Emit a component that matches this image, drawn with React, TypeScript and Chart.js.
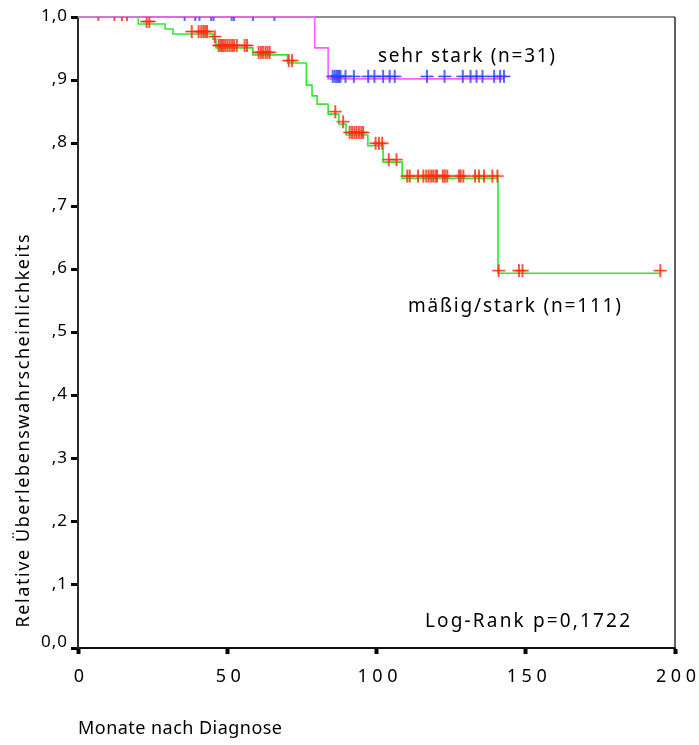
import React, { useEffect, useRef } from "react";
import { Chart, registerables } from "chart.js";

Chart.register(...registerables);

const W = 699;
const H = 745;

// "mäßig/stark" group: event times (months) and survival after each step
const moderateTimes = [0, 20.2, 29.2, 31.8, 45.2, 46.2, 58.6, 70.2, 76.5, 78.4, 80.1, 83.8, 87.4, 89.8, 97.1, 102.2, 108.6, 140.7, 195.1];
const moderateSurv = [1.0, 0.989, 0.981, 0.973, 0.965, 0.951, 0.94, 0.927, 0.892, 0.875, 0.862, 0.846, 0.83, 0.813, 0.796, 0.77, 0.744, 0.594, 0.594];
// censored observations (months)
const moderateCensored = [
  6.8, 12.2, 14.7, 16.4,
  23.0, 23.9,
  38.1, 40.4, 41.3, 42.0, 42.6, 43.2,
  45.8,
  47.1, 47.7, 48.2, 48.8, 49.4, 50.1, 50.8, 51.6, 52.3, 53.2, 55.8, 56.6,
  60.5, 61.3, 62.0, 62.8, 63.5, 64.2,
  70.6, 71.7,
  86.2, 88.8,
  91.0, 91.8, 92.6, 93.3, 94.1, 94.9, 95.5,
  99.7, 100.8, 101.9,
  104.1, 106.7,
  110.3, 111.1, 113.9, 115.7, 116.7, 117.5, 118.3, 119.0, 119.8, 120.3, 122.2, 122.9, 123.7,
  127.6, 128.2, 129.1, 133.0, 134.3, 136.0, 138.8, 140.5,
  140.9, 147.7, 148.9, 195.1,
];

// "sehr stark" group
const strongTimes = [0, 79.3, 83.8, 142.7];
const strongSurv = [1.0, 0.951, 0.902, 0.902];
const strongCensored = [
  35.7, 39.3, 40.7, 44.6, 45.4, 51.5, 52.3, 58.6, 65.8,
  85.3, 86.0, 86.6, 87.0, 87.5, 87.9, 89.6, 92.4, 97.2, 99.3, 102.2, 104.4, 106.1,
  116.9, 122.8, 128.9, 131.5, 133.5, 135.5, 139.4, 141.4, 142.7,
];

const yTickLabels = ["0,0", ",1", ",2", ",3", ",4", ",5", ",6", ",7", ",8", ",9", "1,0"];
const xTickLabels = ["0", "50", "100", "150", "200"];

const yTitle = "Relative Überlebenswahrscheinlichkeits";
const xTitle = "Monate nach Diagnose";
const strongLabel = "sehr stark (n=31)";
const moderateLabel = "mäßig/stark (n=111)";
const testLabel = "Log-Rank p=0,1722";

const FAMILY = '"Noto Sans", "DejaVu Sans", sans-serif';

function survivalAt(times: number[], surv: number[], t: number): number {
  let s = surv[0];
  for (let i = 0; i < times.length; i++) {
    if (times[i] <= t) s = surv[i];
  }
  return s;
}

function stepPoints(times: number[], surv: number[]) {
  return times.map((t, i) => ({ x: t, y: surv[i] }));
}

function censorPoints(times: number[], surv: number[], censored: number[]) {
  return censored.map((t) => ({ x: t, y: survivalAt(times, surv, t) }));
}

// small "+" marker, drawn a little above the point it marks
function crossMarker(color: string): HTMLCanvasElement {
  const c = document.createElement("canvas");
  c.width = 14;
  c.height = 20;
  const g = c.getContext("2d")!;
  g.strokeStyle = color;
  g.lineWidth = 1.6;
  g.beginPath();
  g.moveTo(7, 1);
  g.lineTo(7, 14);
  g.moveTo(0.5, 7.5);
  g.lineTo(13.5, 7.5);
  g.stroke();
  return c;
}

// draws text character by character with extra tracking;
// if width is given, the tracking is chosen so the text spans that width
function spacedText(
  ctx: CanvasRenderingContext2D,
  text: string,
  x: number,
  y: number,
  align: "left" | "center" | "right",
  spacing: number,
  width?: number
) {
  const chars = Array.from(text);
  const widths = chars.map((ch) => ctx.measureText(ch).width);
  const natural = widths.reduce((a, b) => a + b, 0);
  const gap = width !== undefined && chars.length > 1 ? (width - natural) / (chars.length - 1) : spacing;
  const total = natural + gap * (chars.length - 1);
  let cx = align === "center" ? x - total / 2 : align === "right" ? x - total : x;
  ctx.textAlign = "left";
  chars.forEach((ch, i) => {
    ctx.fillText(ch, cx, y);
    cx += widths[i] + gap;
  });
}

const framePlugin = {
  id: "frame",
  beforeDatasetsDraw(chart: any) {
    const { ctx, chartArea } = chart;
    ctx.save();
    ctx.strokeStyle = "#8c8c8c";
    ctx.lineWidth = 2;
    ctx.beginPath();
    ctx.moveTo(chartArea.left, chartArea.top);
    ctx.lineTo(chartArea.right, chartArea.top);
    ctx.stroke();
    ctx.strokeStyle = "#3a3a3a";
    ctx.lineWidth = 1.6;
    ctx.beginPath();
    ctx.moveTo(chartArea.right, chartArea.top);
    ctx.lineTo(chartArea.right, chartArea.bottom);
    ctx.stroke();
    ctx.restore();
  },
};

const textPlugin = {
  id: "texts",
  afterDraw(chart: any) {
    const { ctx, chartArea } = chart;
    const xs = chart.scales.x;
    const ys = chart.scales.y;
    ctx.save();
    ctx.fillStyle = "#000";

    // y tick labels
    ctx.font = `17px ${FAMILY}`;
    ctx.textBaseline = "middle";
    ys.ticks.forEach((tick: any, i: number) => {
      const py = ys.getPixelForValue(tick.value);
      const label = yTickLabels[i] ?? "";
      spacedText(ctx, label, 67, i === 0 ? py - 6 : py - 1, "right", 1);
    });

    ctx.textBaseline = "alphabetic";
    // x tick labels
    ctx.font = `18px ${FAMILY}`;
    xs.ticks.forEach((tick: any, i: number) => {
      const px = xs.getPixelForValue(tick.value);
      spacedText(ctx, xTickLabels[i] ?? "", px + 1, chartArea.bottom + 34, "center", 4.5);
    });

    // curve labels and test result
    ctx.font = `19px ${FAMILY}`;
    spacedText(ctx, strongLabel, 378, 61.5, "left", 0, 177);
    spacedText(ctx, moderateLabel, 408, 311.5, "left", 0, 213);
    spacedText(ctx, testLabel, 425, 626.5, "left", 0, 205);

    // axis titles
    ctx.font = `18px ${FAMILY}`;
    spacedText(ctx, xTitle, 78, 733.5, "left", 0, 204);
    ctx.translate(29, 431);
    ctx.rotate(-Math.PI / 2);
    spacedText(ctx, yTitle, 0, 0, "center", 0, 393);
    ctx.restore();
  },
};

export default function App() {
  const ref = useRef<HTMLCanvasElement>(null);

  useEffect(() => {
    const canvas = ref.current;
    if (!canvas) return;
    const blueCross = crossMarker("#2a45ff");
    const redCross = crossMarker("#ff2a0a");

    const chart = new Chart(canvas, {
      type: "line",
      data: {
        datasets: [
          {
            label: "sehr stark zensiert",
            data: censorPoints(strongTimes, strongSurv, strongCensored),
            showLine: false,
            pointStyle: blueCross as any,
            pointRadius: 7,
            clip: 0,
          } as any,
          {
            label: "mäßig/stark zensiert",
            data: censorPoints(moderateTimes, moderateSurv, moderateCensored),
            showLine: false,
            pointStyle: redCross as any,
            pointRadius: 7,
            clip: 0,
          },
          {
            label: "sehr stark",
            data: stepPoints(strongTimes, strongSurv),
            stepped: true,
            borderColor: "#ff5cff",
            borderWidth: 1.6,
            pointRadius: 0,
            fill: false,
            clip: 2,
          },
          {
            label: "mäßig/stark",
            data: stepPoints(moderateTimes, moderateSurv),
            stepped: true,
            borderColor: "#2fe82f",
            borderWidth: 1.6,
            pointRadius: 0,
            fill: false,
            clip: 2,
          },
        ],
      },
      options: {
        responsive: false,
        devicePixelRatio: 1,
        animation: false,
        events: [],
        layout: { padding: { top: 17, right: 24, left: 0, bottom: 0 } },
        plugins: {
          legend: { display: false },
          tooltip: { enabled: false },
        },
        scales: {
          x: {
            type: "linear",
            min: 0,
            max: 200,
            ticks: { stepSize: 50, display: false },
            grid: {
              drawOnChartArea: false,
              drawTicks: true,
              tickLength: 6,
              tickWidth: 4,
              tickColor: "#000",
            },
            border: { color: "#111", width: 2 },
            afterFit: (s: any) => {
              s.height = H - 648;
            },
          },
          y: {
            type: "linear",
            min: 0,
            max: 1,
            ticks: { stepSize: 0.1, display: false },
            grid: {
              drawOnChartArea: false,
              drawTicks: true,
              tickLength: 7,
              tickWidth: 3,
              tickColor: "#000",
            },
            border: { color: "#2a2a2a", width: 2 },
            afterFit: (s: any) => {
              s.width = 78;
            },
          },
        },
      },
      plugins: [framePlugin, textPlugin],
    });

    return () => chart.destroy();
  }, []);

  return (
    <div
      style={{
        position: "fixed",
        left: 0,
        top: 0,
        width: W,
        height: H,
        background: "#fff",
      }}
    >
      <canvas ref={ref} width={W} height={H} style={{ display: "block", width: W, height: H }} />
    </div>
  );
}
